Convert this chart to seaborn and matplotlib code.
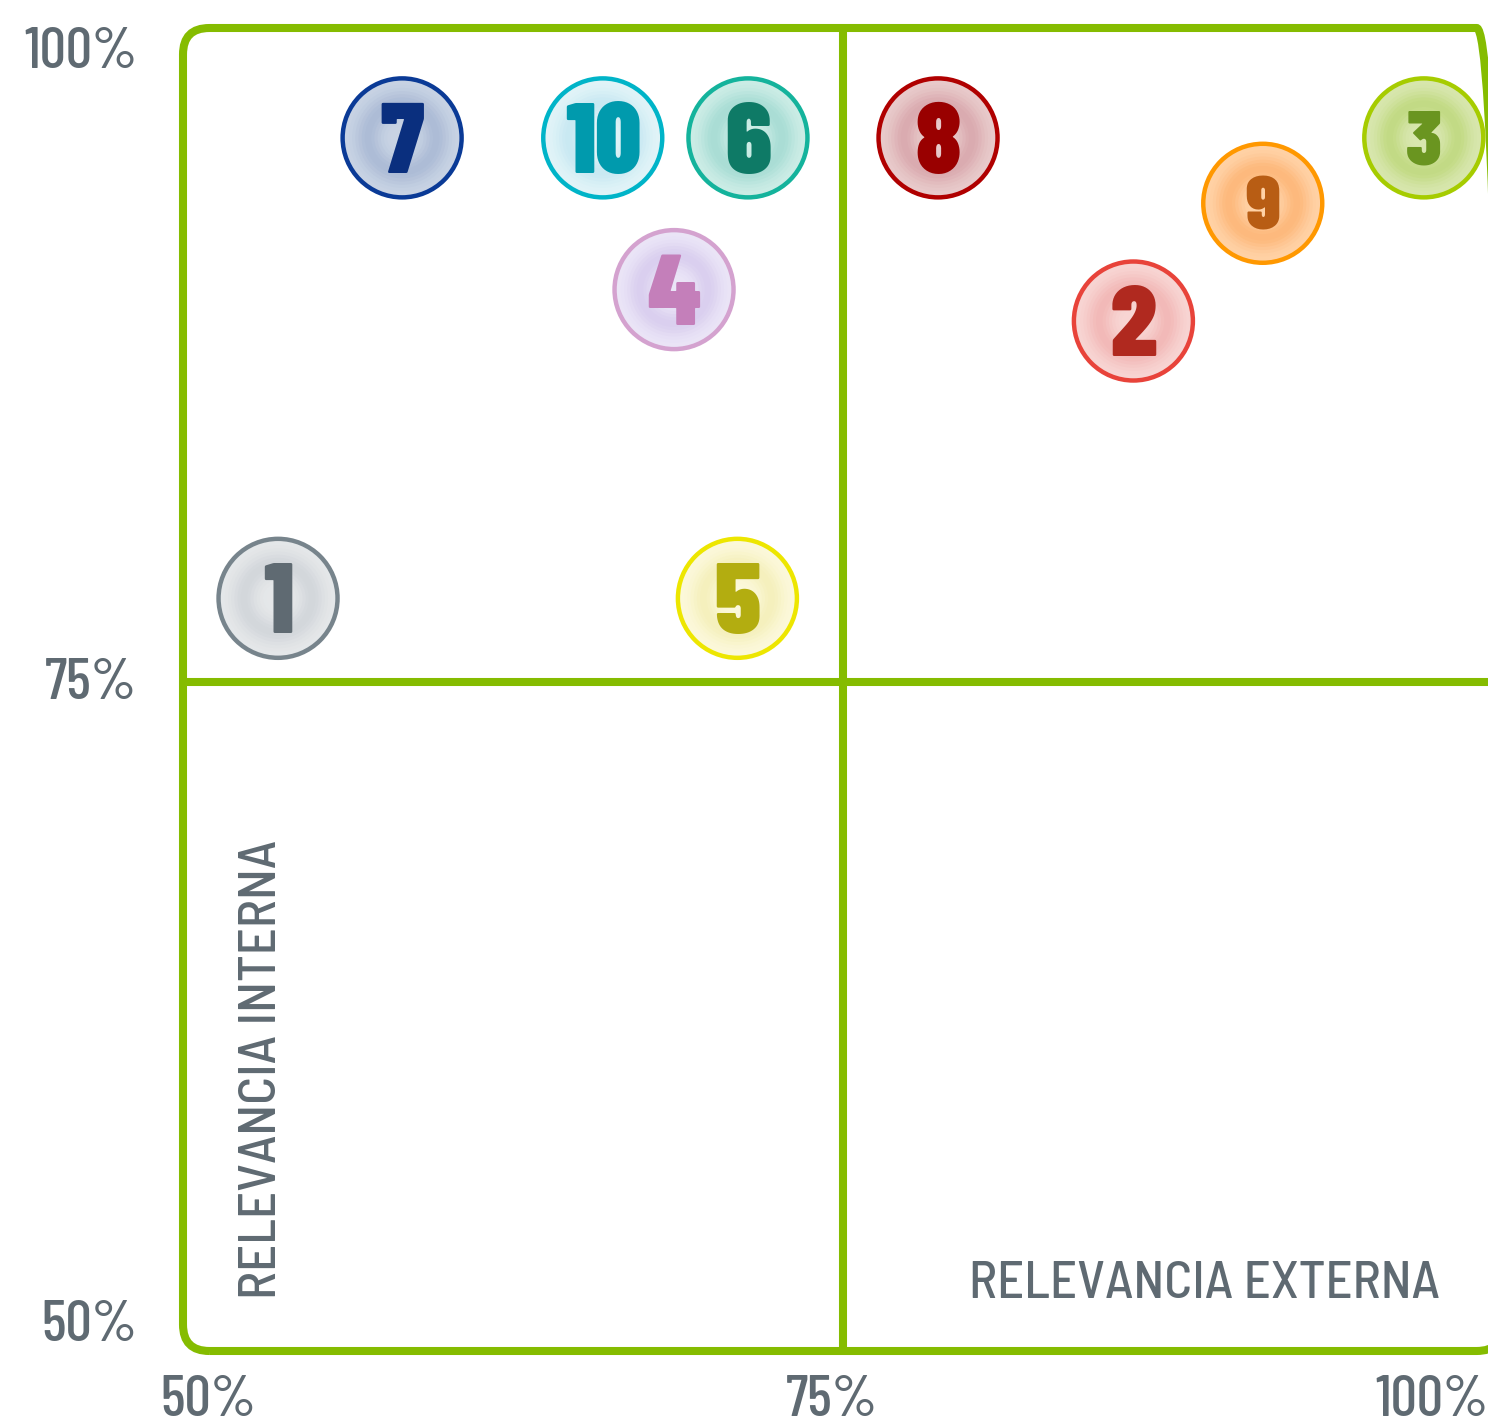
import numpy as np
import matplotlib
matplotlib.use('Agg')
import matplotlib.pyplot as plt
import matplotlib.colors as mcolors
import matplotlib.transforms as mtransforms
import matplotlib.font_manager as fm
from matplotlib.patches import FancyBboxPatch
import seaborn as sns

# Topics and their position in the matrix (percent)
topics = ['1', '2', '3', '4', '5', '6', '7', '8', '9', '10']
relevancia_externa = [53.6, 86.0, 97.0, 68.6, 71.0, 71.4, 58.3, 78.6, 90.9, 65.9]
relevancia_interna = [78.2, 88.8, 95.8, 90.0, 78.2, 95.8, 95.8, 95.8, 93.3, 95.8]

tick_values = [50, 75, 100]
tick_labels = ['50%', '75%', '100%']

# Colours per topic: ring, light fill, darker halo, number
edge_colors = ['#77848c', '#e8433a', '#a6cc00', '#d4a2cf', '#ede600',
               '#14b39c', '#0a3a96', '#b00000', '#ff9800', '#00b4c8']
fill_colors = ['#e6e8ea', '#f8d6d4', '#d9e7b0', '#ebe6f7', '#fcf9dc',
               '#cdede6', '#c9d4e4', '#e9cccc', '#ffd3a8', '#e2f4f8']
halo_colors = ['#d3d7db', '#f2b9b8', '#c2da84', '#dacfef', '#f5f0bd',
               '#a9ddd5', '#adbcd6', '#daabb0', '#fdb97c', '#c9e9f2']
text_colors = ['#5f6a72', '#b0291f', '#6a9520', '#c47fba', '#b3ad10',
               '#0e7a66', '#0a2f7e', '#990000', '#b85d14', '#009aad']
number_scale = [1, 1, 0.78, 1, 1, 1, 1, 1, 0.76, 1]

green = '#85bc00'
gray = '#5f6a72'

sns.set_theme(style='white')

# pick a condensed face if one is installed
installed = {f.name for f in fm.fontManager.ttflist}
def first_font(cands):
    return next((c for c in cands if c in installed), 'DejaVu Sans')

label_font = first_font(['Barlow Condensed', 'Roboto Condensed', 'Sofia Sans Condensed',
                         'Asap Condensed', 'Saira SemiCondensed'])
title_font = first_font(['Barlow Semi Condensed', 'Barlow Condensed', 'Roboto Condensed',
                         'Asap Condensed', 'Saira SemiCondensed'])
number_font = first_font(['Barlow Condensed', 'Roboto Condensed', 'Asap Condensed',
                          'Saira SemiCondensed'])
plt.rcParams['font.family'] = [label_font, 'DejaVu Sans']
plt.rcParams['font.weight'] = 'medium'

fig = plt.figure(figsize=(14.88, 14.27), dpi=100)
ax = fig.add_axes([183 / 1488, 76 / 1427, 1320 / 1488, 1323 / 1427])
ax.set_xlim(50, 100)
ax.set_ylim(49.43, 100)
sns.despine(ax=ax, left=True, bottom=True)

# Frame and quadrant lines
frame = FancyBboxPatch((0, 0), 1, 1, boxstyle='round,pad=0,rounding_size=0.02',
                       transform=ax.transAxes, fill=False, edgecolor=green,
                       linewidth=5.8, clip_on=False, zorder=1)
ax.add_patch(frame)
ax.axvline(75, color=green, linewidth=5.8, zorder=1)
ax.axhline(75, color=green, linewidth=5.8, zorder=1)

# Bubbles with a soft radial shading
size_full = 7340
for f in np.linspace(1.0, 0.2, 16):
    w = np.exp(-((f - 0.6) / 0.22) ** 2)
    layer = {}
    for t, c1, c2 in zip(topics, fill_colors, halo_colors):
        a = np.array(mcolors.to_rgb(c1))
        b = np.array(mcolors.to_rgb(c2))
        layer[t] = tuple(a + w * (b - a))
    sns.scatterplot(x=relevancia_externa, y=relevancia_interna, hue=topics,
                    palette=layer, s=size_full * f ** 2, linewidth=0,
                    legend=False, ax=ax, zorder=3, clip_on=False)

ax.scatter(relevancia_externa, relevancia_interna, s=size_full,
           facecolors='none', edgecolors=edge_colors, linewidths=3.2,
           zorder=4, clip_on=False)

for t, xv, yv, tc, k in zip(topics, relevancia_externa, relevancia_interna,
                            text_colors, number_scale):
    ax.text(xv, yv, t, ha='center', va='center_baseline', fontsize=72 * k,
            fontweight='black', family=[number_font, 'DejaVu Sans'],
            color=tc, zorder=5)

# Ticks
ax.set_xticks(tick_values)
ax.set_xticklabels(tick_labels, va='center')
ax.set_yticks(tick_values)
ax.set_yticklabels(tick_labels)
ax.tick_params(length=0, labelsize=42, labelcolor=gray)
ax.tick_params(axis='x', pad=36)
ax.tick_params(axis='y', pad=33)

x_shift = [25, -11, -71]
for lab, dx in zip(ax.get_xticklabels(), x_shift):
    lab.set_transform(lab.get_transform() +
                      mtransforms.ScaledTranslation(dx / 100, 0, fig.dpi_scale_trans))
y_shift = [16, 4, -20]
for lab, dy in zip(ax.get_yticklabels(), y_shift):
    lab.set_transform(lab.get_transform() +
                      mtransforms.ScaledTranslation(0, dy / 100, fig.dpi_scale_trans))

# Axis titles inside the frame, fitted to the reference widths
t_ext = ax.text(0.952, 0.040, 'RELEVANCIA EXTERNA', transform=ax.transAxes,
                ha='right', va='baseline', fontsize=40, color=gray,
                family=[title_font, 'DejaVu Sans'])
t_int = ax.text(0.060, 0.039, 'RELEVANCIA INTERNA', transform=ax.transAxes,
                ha='center', va='bottom', rotation=90, fontsize=40, color=gray,
                family=[title_font, 'DejaVu Sans'])
fig.canvas.draw()
renderer = fig.canvas.get_renderer()
ext_w = t_ext.get_window_extent(renderer).width
int_h = t_int.get_window_extent(renderer).height
t_ext.set_fontsize(40 * 472 / ext_w)
t_int.set_fontsize(40 * 460 / int_h)

fig.savefig('out.png', dpi=100, facecolor='white')
